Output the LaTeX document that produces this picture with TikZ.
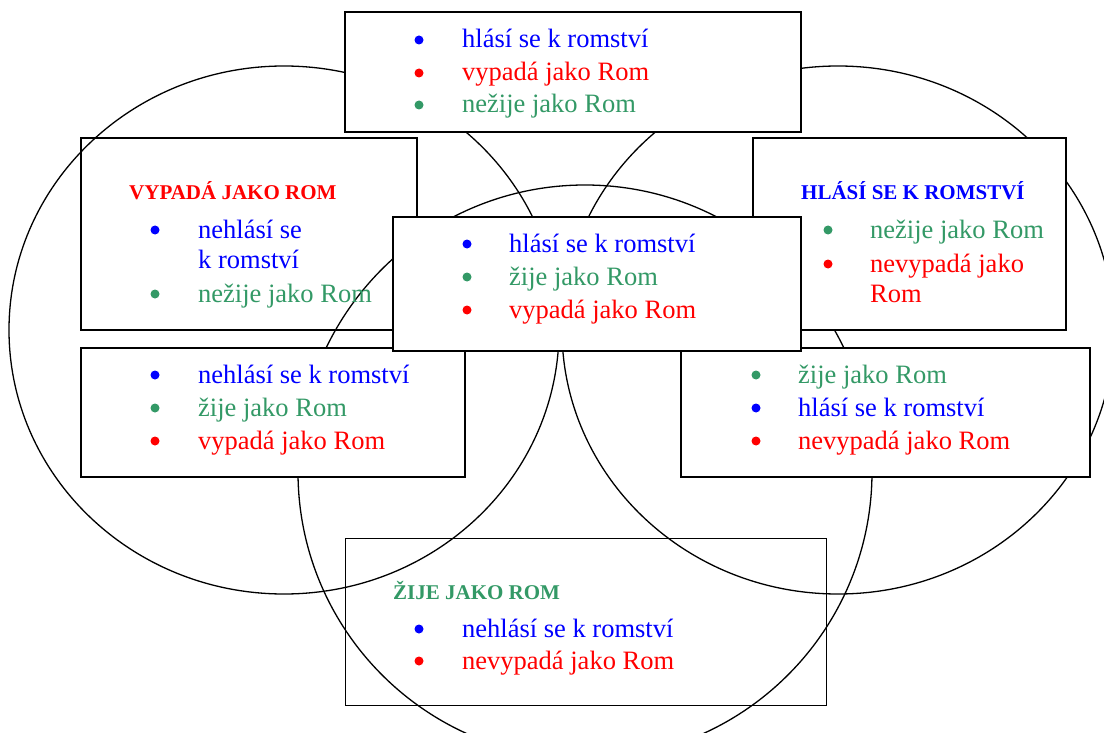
\documentclass[tikz,border=0pt]{standalone}
\usepackage{fontspec}
\setmainfont{Liberation Serif}
\definecolor{cblue}{RGB}{0,0,255}
\definecolor{cred}{RGB}{255,0,0}
\definecolor{cgreen}{RGB}{51,153,102}
\newcommand{\bitem}[6]{%
  \node[bul, fill=#5] (#1b) at (#2,#4-8) {};
  \node[itm, text=#5] (#1t) at (#3,#4) {#6};}
\begin{document}
\begin{tikzpicture}[x=1pt,y=-1pt,
  circ/.style={line width=1.3pt},
  openbox/.style={draw, line width=1.8pt, rectangle, inner sep=0pt},
  thinbox/.style={draw, line width=0.9pt, rectangle, inner sep=0pt},
  whitebox/.style={draw, fill=white, line width=1.8pt, rectangle, inner sep=0pt},
  bul/.style={circle, inner sep=0pt, minimum size=9pt},
  itm/.style={anchor=base west, inner sep=0pt, font=\fontsize{26.5}{32}\selectfont},
  ttl/.style={anchor=base west, inner sep=0pt, font=\fontsize{21}{25}\selectfont\bfseries}]
\useasboundingbox (0,0) rectangle (1104,733);
\clip (0,0) rectangle (1104,733);
% unfilled boxes (beneath the circles)
\node[thinbox, minimum width=481pt, minimum height=167pt] (bottombox) at (585.5,621.5) {};
\node[openbox, minimum width=336pt, minimum height=192pt] (ltbox) at (249,234) {};
% circles
\draw[circ] (284,330) ellipse [x radius=275pt, y radius=264pt];
\draw[circ] (838,330) ellipse [x radius=276pt, y radius=264pt];
\draw[circ] (585,472) circle [radius=287pt];
% filled boxes
\node[whitebox, minimum width=456pt, minimum height=120pt] (topbox) at (573,72) {};
\node[whitebox, minimum width=313pt, minimum height=192pt] (rtbox) at (909.5,234) {};
\node[whitebox, minimum width=384pt, minimum height=129pt] (lbbox) at (273,412.5) {};
\node[whitebox, minimum width=409pt, minimum height=129pt] (rbbox) at (885.5,412.5) {};
\node[whitebox, minimum width=408pt, minimum height=134pt] (cbox) at (597,284) {};
% top box
\bitem{ta}{419}{462}{48}{cblue}{hlásí se k romství}
\bitem{tb}{419}{462}{81}{cred}{vypadá jako Rom}
\bitem{tc}{419}{462}{113}{cgreen}{nežije jako Rom}
% left top box
\node[ttl, text=cred] (lttitle) at (129,200) {VYPADÁ JAKO ROM};
\bitem{la}{155}{198}{238}{cblue}{nehlásí se}
\node[itm, text=cblue] (lacont) at (198,269) {k romství};
\bitem{lb}{155}{198}{302}{cgreen}{nežije jako Rom}
% right top box
\node[ttl, text=cblue] (rttitle) at (801,200) {HLÁSÍ SE K ROMSTVÍ};
\bitem{ra}{828}{870}{238}{cgreen}{nežije jako Rom}
\bitem{rb}{828}{870}{272}{cred}{nevypadá jako}
\node[itm, text=cred] (rbcont) at (870,302) {Rom};
% center box
\bitem{ca}{467}{509}{252}{cblue}{hlásí se k romství}
\bitem{cb}{467}{509}{285}{cgreen}{žije jako Rom}
\bitem{cc}{467}{509}{318}{cred}{vypadá jako Rom}
% left bottom box
\bitem{lba}{155}{198}{383}{cblue}{nehlásí se k romství}
\bitem{lbb}{155}{198}{416}{cgreen}{žije jako Rom}
\bitem{lbc}{155}{198}{449}{cred}{vypadá jako Rom}
% right bottom box
\bitem{rba}{756}{798}{383}{cgreen}{žije jako Rom}
\bitem{rbb}{756}{798}{416}{cblue}{hlásí se k romství}
\bitem{rbc}{756}{798}{449}{cred}{nevypadá jako Rom}
% bottom box
\node[ttl, text=cgreen] (bttitle) at (393,599) {ŽIJE JAKO ROM};
\bitem{ba}{419}{462}{637}{cblue}{nehlásí se k romství}
\bitem{bb}{419}{462}{669}{cred}{nevypadá jako Rom}
\end{tikzpicture}
\end{document}
